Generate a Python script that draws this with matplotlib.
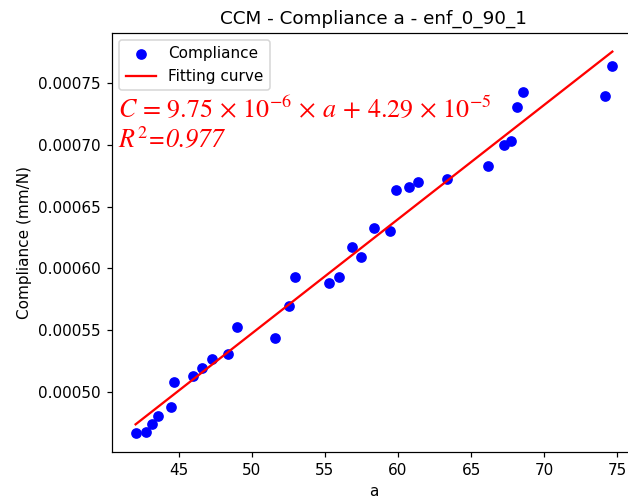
import numpy as np
import matplotlib
matplotlib.use("Agg")
import matplotlib.pyplot as plt

a_values = [42.06, 42.74, 43.21, 43.62, 44.47, 44.66, 45.97, 46.61, 47.28, 48.40,
            49.02, 51.62, 52.54, 52.93, 55.30, 55.99, 56.85, 57.49, 58.33, 59.43,
            59.90, 60.74, 61.39, 63.34, 66.14, 67.23, 67.71, 68.12, 68.56, 74.19,
            74.66]
compliance = [0.0004670, 0.0004675, 0.0004740, 0.0004804, 0.0004880, 0.0005080,
              0.0005131, 0.0005191, 0.0005266, 0.0005304, 0.0005527, 0.0005437,
              0.0005694, 0.0005930, 0.0005885, 0.0005930, 0.0006175, 0.0006089,
              0.0006331, 0.0006302, 0.0006632, 0.0006656, 0.0006699, 0.0006724,
              0.0006831, 0.0007000, 0.0007032, 0.0007304, 0.0007428, 0.0007395,
              0.0007637]

eq_text = (r'$C\,=\,9.75\,\times\,10^{-6}\,\times\,a\,+\,4.29\,\times\,10^{-5}$')
r2_text = r'$R^2$=0.977'
title = 'CCM - Compliance a - enf_0_90_1'

plt.rcParams['mathtext.fontset'] = 'stix'

a = np.array(a_values)
c = np.array(compliance)

# linear fit through the points
slope, intercept = np.polyfit(a, c, 1)
a_fit = np.array([a.min(), a.max()])
c_fit = slope * a_fit + intercept

fig = plt.figure(figsize=(628 / 110, 501 / 110), dpi=110)
ax = fig.add_axes([0.178, 0.098, 0.835, 0.837])

ax.scatter(a, c, color='blue', label='Compliance')
ax.plot(a_fit, c_fit, color='red', label='Fitting curve')

ax.text(0.012, 0.815, eq_text, transform=ax.transAxes, color='red',
        fontsize=17, va='center', ha='left')
ax.text(0.012, 0.741, r2_text, transform=ax.transAxes, color='red',
        fontsize=17, va='center', ha='left', family='STIXGeneral', style='italic')

ax.set_title(title)
ax.set_xlabel('a')
ax.set_ylabel('Compliance (mm/N)')
ax.legend(loc='upper left')

fig.savefig('out.png', dpi=110)
